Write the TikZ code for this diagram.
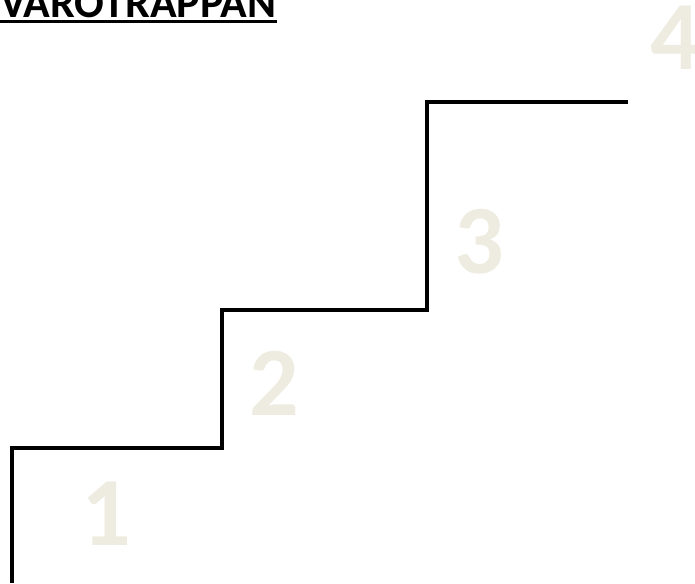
\documentclass[tikz,border=0pt]{standalone}
\usepackage{fontspec}
\setmainfont{Carlito}
\usepackage{tikz}
\usetikzlibrary{positioning}
\definecolor{stepbeige}{RGB}{238,236,224}

\begin{document}
\begin{tikzpicture}[
    x=1pt, y=-1pt,
    stepnum/.style={font=\fontsize{98}{98}\selectfont\bfseries, text=stepbeige, anchor=base, inner sep=0pt},
    stair/.style={line width=4.5pt, black, line join=miter}
]
\useasboundingbox (0,0) rectangle (695,583);

% Title
\node[anchor=base west, inner sep=0pt, font=\fontsize{44}{44}\selectfont\bfseries] (title) at (0,18) {VAROTRAPPAN};
\draw[line width=3pt] ([yshift=-4pt]title.base west) -- ([yshift=-4pt]title.base east);

% Step numbers
\node[stepnum] (n1) at (106,545) {1};
\node[stepnum] (n2) at (274,415) {2};
\node[stepnum] (n3) at (479,273) {3};
\node[stepnum] (n4) at (675,70) {4};

% Stairs
\coordinate (s0) at (12,583);
\coordinate (s1) at (12,448);
\coordinate (s2) at (222,448);
\coordinate (s3) at (222,310);
\coordinate (s4) at (427,310);
\coordinate (s5) at (427,102);
\coordinate (s6) at (628,102);
\draw[stair] (s0) -- (s1) -- (s2) -- (s3) -- (s4) -- (s5) -- (s6);

\end{tikzpicture}
\end{document}
